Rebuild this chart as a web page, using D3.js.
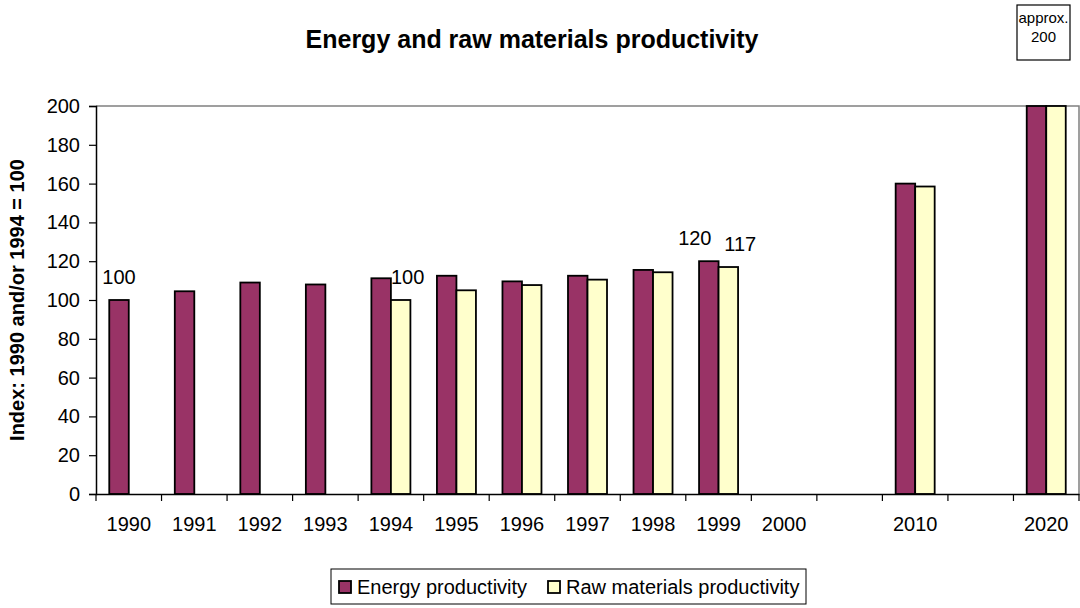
<!DOCTYPE html>
<html>
<head>
<meta charset="utf-8">
<script src="https://cdnjs.cloudflare.com/ajax/libs/d3/7.8.5/d3.min.js"></script>
<style>
  body { margin: 0; background: #fff; }
  svg { display: block; font-family: "Liberation Sans", Arial, sans-serif; }
</style>
</head>
<body>
<svg id="chart" width="1080" height="608"></svg>
<script>
// categories on the x axis (empty ones are spacer slots)
var categories = ["1990", "1991", "1992", "1993", "1994", "1995", "1996", "1997", "1998", "1999", "2000", "", "2010", "", "2020"];
var energy = [100, 104.5, 109, 108, 111.2, 112.5, 109.6, 112.5, 115.5, 120, null, null, 160, null, 200];
var raw    = [null, null, null, null, 100, 105, 107.7, 110.5, 114.3, 117, null, null, 158.5, null, 200];
var seriesNames = ["Energy productivity", "Raw materials productivity"];
var yTicks = [0, 20, 40, 60, 80, 100, 120, 140, 160, 180, 200];
// value labels shown on a few bars: [series index, category]
var valueLabels = [[0, "1990"], [1, "1994"], [0, "1999"], [1, "1999"]];
var noteLines = ["approx.", "200"];

var colors = ["#993366", "#ffffcc"];

var svg = d3.select("#chart"),
    margin = {top: 106, right: 1, bottom: 114, left: 96},
    width = 1080 - margin.left - margin.right,
    height = 608 - margin.top - margin.bottom,
    g = svg.append("g").attr("transform", "translate(" + margin.left + "," + margin.top + ")");

var x = d3.scaleBand()
    .domain(d3.range(categories.length))
    .range([0, width])
    .padding(0);

var xSub = d3.scaleBand()
    .domain([0, 1])
    .range([0, x.bandwidth()])
    .paddingInner(0)
    .paddingOuter(0.68);

var y = d3.scaleLinear()
    .domain([0, 200])
    .range([height, 0]);

var series = [energy, raw];

// plot area border (top and right in grey)
g.append("path")
    .attr("d", "M0,0H" + width + "V" + height)
    .attr("fill", "none")
    .attr("stroke", "#808080")
    .attr("stroke-width", 1.5);

// bars
var groups = g.selectAll(".series")
  .data(series)
  .enter().append("g")
    .attr("class", "series");

groups.selectAll("rect")
  .data(function(s, si) {
    return s.map(function(v, i) { return {si: si, i: i, v: v}; })
            .filter(function(d) { return d.v != null; });
  })
  .enter().append("rect")
    .attr("x", function(d) { return x(d.i) + xSub(d.si); })
    .attr("y", function(d) { return y(d.v); })
    .attr("width", xSub.bandwidth())
    .attr("height", function(d) { return height - y(d.v); })
    .attr("fill", function(d) { return colors[d.si]; })
    .attr("stroke", "#000")
    .attr("stroke-width", 1.8);

// y axis
var yAxis = g.append("g")
    .call(d3.axisLeft(y).tickValues(yTicks).tickSize(7).tickPadding(9));
yAxis.select(".domain").attr("stroke", "#000").attr("stroke-width", 1.5);
yAxis.selectAll("text").style("font-size", "20px").attr("fill", "#000");
yAxis.selectAll(".tick line").attr("stroke", "#000").attr("stroke-width", 1.2);

// x axis: labels at band centres, tick marks at band edges
var xAxis = g.append("g")
    .attr("transform", "translate(0," + height + ")")
    .call(d3.axisBottom(x).tickSize(0).tickPadding(23)
      .tickFormat(function(i) { return categories[i]; }));
xAxis.select(".domain").attr("stroke", "#000").attr("stroke-width", 1.5);
xAxis.selectAll("text").style("font-size", "20px").attr("fill", "#000");

var edges = d3.range(categories.length).map(function(i) { return x(i); }).concat([width]);
xAxis.selectAll(".edge")
  .data(edges)
  .enter().append("line")
    .attr("class", "edge")
    .attr("x1", function(d) { return d; })
    .attr("x2", function(d) { return d; })
    .attr("y1", 0)
    .attr("y2", 7)
    .attr("stroke", "#000")
    .attr("stroke-width", 1.2);

// value labels
var labelShift = {"0,1999": -14, "1,1999": 12, "1,1994": 7};
g.selectAll(".vlabel")
  .data(valueLabels)
  .enter().append("text")
    .attr("class", "vlabel")
    .attr("x", function(d) {
      var i = categories.indexOf(d[1]);
      return x(i) + xSub(d[0]) + xSub.bandwidth() / 2 + (labelShift[d[0] + "," + d[1]] || 0);
    })
    .attr("y", function(d) {
      var i = categories.indexOf(d[1]);
      return y(series[d[0]][i]) - 16;
    })
    .attr("text-anchor", "middle")
    .style("font-size", "20px")
    .text(function(d) {
      var i = categories.indexOf(d[1]);
      return Math.round(series[d[0]][i]);
    });

// y axis title
svg.append("text")
    .attr("transform", "translate(24," + (margin.top + height / 2) + ") rotate(-90)")
    .attr("text-anchor", "middle")
    .style("font-size", "20px")
    .style("font-weight", "bold")
    .text("Index: 1990 and/or 1994 = 100");

// chart title
svg.append("text")
    .attr("x", 532)
    .attr("y", 48)
    .attr("text-anchor", "middle")
    .style("font-size", "25px")
    .style("font-weight", "bold")
    .text("Energy and raw materials productivity");

// note box top right
var note = svg.append("g").attr("transform", "translate(1017,5)");
note.append("rect")
    .attr("width", 53)
    .attr("height", 55)
    .attr("fill", "#fff")
    .attr("stroke", "#000")
    .attr("stroke-width", 1.2);
note.selectAll("text")
  .data(noteLines)
  .enter().append("text")
    .attr("x", 26.5)
    .attr("y", function(d, i) { return 18 + i * 19; })
    .attr("text-anchor", "middle")
    .style("font-size", "15px")
    .text(function(d) { return d; });

// legend
var legend = svg.append("g").attr("transform", "translate(331,569)");
legend.append("rect")
    .attr("width", 475)
    .attr("height", 35)
    .attr("fill", "#fff")
    .attr("stroke", "#000")
    .attr("stroke-width", 1);

var legendX = [8, 217];
var items = legend.selectAll(".item")
  .data(seriesNames)
  .enter().append("g")
    .attr("class", "item")
    .attr("transform", function(d, i) { return "translate(" + legendX[i] + ",0)"; });
items.append("rect")
    .attr("y", 12)
    .attr("width", 12)
    .attr("height", 12)
    .attr("fill", function(d, i) { return colors[i]; })
    .attr("stroke", "#000")
    .attr("stroke-width", 1.8);
items.append("text")
    .attr("x", 18)
    .attr("y", 25)
    .style("font-size", "20px")
    .text(function(d) { return d; });
</script>
</body>
</html>
